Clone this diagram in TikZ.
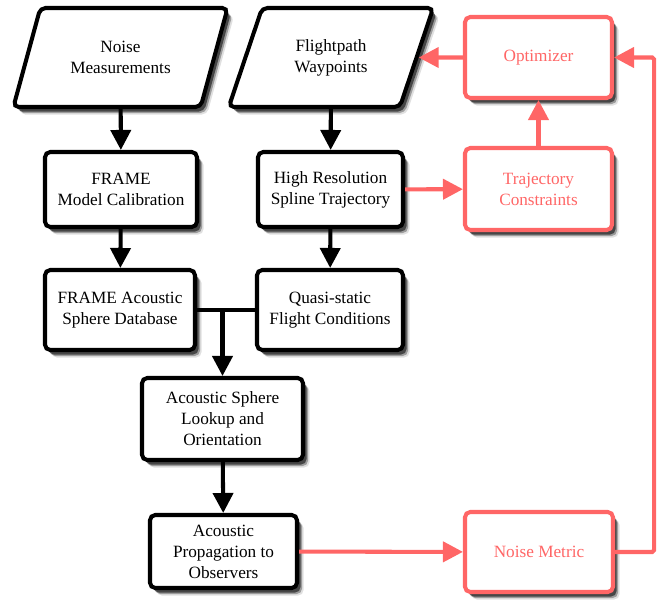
\documentclass[tikz,border=0pt]{standalone}
\usepackage{fontspec}
\setmainfont{Liberation Serif}
\usetikzlibrary{positioning, shapes.geometric, arrows.meta, shadows}
\definecolor{optred}{RGB}{255,102,102}

\begin{document}
\begin{tikzpicture}[
        font=\fontsize{9.8pt}{12pt}\selectfont,
        shade/.style={drop shadow={shadow xshift=0.13cm, shadow yshift=-0.15cm, fill=black, opacity=0.12},
                      drop shadow={shadow xshift=0.1cm, shadow yshift=-0.12cm, fill=black, opacity=0.3},
                      drop shadow={shadow xshift=0.07cm, shadow yshift=-0.09cm, fill=black, opacity=0.55}},
        box/.style={draw, line width=2.3pt, rounded corners=3pt, fill=white, align=center, minimum height=1.55cm, shade},
        redbox/.style={box, draw=optred, text=optred},
        data/.style={trapezium, trapezium left angle=67, trapezium right angle=113, trapezium stretches=true, draw, line width=2.3pt, rounded corners=3pt, fill=white, align=center, minimum width=4.1cm, minimum height=1.98cm, shade},
        flow/.style={line width=2.3pt, -{Triangle[length=0.4cm, width=0.4cm]}},
        redflow/.style={flow, draw=optred}
    ]
        \useasboundingbox (0,0) rectangle (13.24,12.08);

        % Inputs
        \node[data, minimum width=4.3cm] (meas) at (2.41, 10.93) {Noise\\Measurements};
        \node[data] (fp) at (6.62, 10.93) {Flightpath\\Waypoints};

        % Processing blocks
        \node[box, minimum width=3.04cm, minimum height=1.5cm] (calib) at (2.42, 8.29) {FRAME\\Model Calibration};
        \node[box, minimum width=2.9cm, minimum height=1.5cm] (spline) at (6.61, 8.29) {High Resolution\\Spline Trajectory};
        \node[box, minimum width=3.0cm, minimum height=1.6cm] (db) at (2.4, 5.88) {FRAME Acoustic\\Sphere Database};
        \node[box, minimum width=2.92cm, minimum height=1.6cm] (qs) at (6.6, 5.88) {Quasi-static\\Flight Conditions};
        \node[box, minimum width=3.22cm, minimum height=1.64cm] (lookup) at (4.45, 3.70) {Acoustic Sphere\\Lookup and\\Orientation};
        \node[box, minimum width=2.94cm, minimum height=1.46cm] (prop) at (4.47, 1.05) {Acoustic\\Propagation to\\Observers};

        % Optimisation loop
        \node[redbox, minimum width=2.94cm, minimum height=1.62cm] (opt) at (10.77, 10.93) {Optimizer};
        \node[redbox, minimum width=2.94cm, minimum height=1.64cm] (tc) at (10.77, 8.30) {Trajectory\\Constraints};
        \node[redbox, minimum width=2.96cm, minimum height=1.6cm] (nm) at (10.78, 1.04) {Noise Metric};

        % Arrows
        \draw[flow] (meas) -- (calib);
        \draw[flow] (calib) -- (db);
        \draw[flow] (fp) -- (spline);
        \draw[flow] (spline) -- (qs);
        \draw[line width=2.3pt] (db) -- (qs);
        \coordinate (join) at (lookup.north |- db.east);
        \draw[flow] (join) -- (lookup);
        \draw[flow] (lookup) -- (prop);

        \draw[redflow] (spline) -- (tc);
        \draw[redflow] (tc) -- (opt);
        \draw[redflow] (opt) -- (fp.east);
        \draw[redflow] (prop) -- (nm);
        \draw[redflow, rounded corners=1pt] (nm.east) -- ++(0.78,0) |- (opt.east);
    \end{tikzpicture}
\end{document}
